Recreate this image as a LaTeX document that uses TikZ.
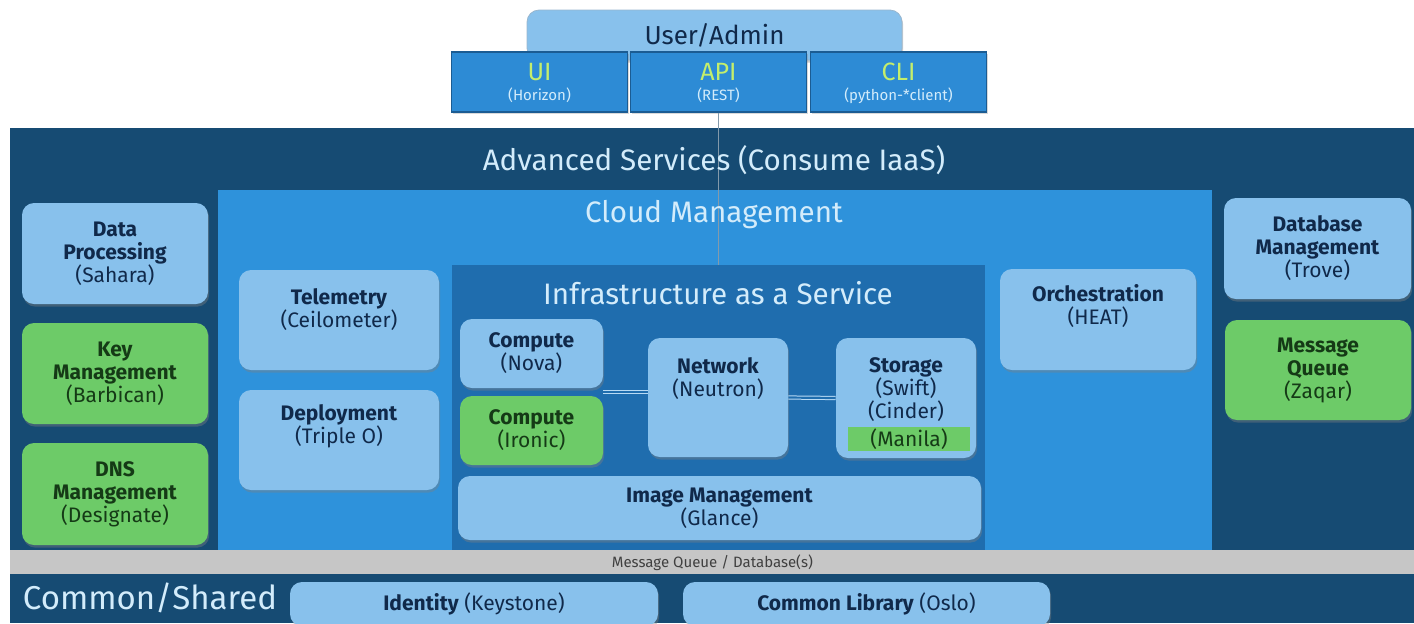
\documentclass[tikz,border=0pt]{standalone}
\usepackage{fontspec}
\setmainfont{Fira Sans}
\usetikzlibrary{positioning, calc, shadows}

\definecolor{outerblue}{HTML}{164B73}
\definecolor{cloudblue}{HTML}{2E92DB}
\definecolor{iaasblue}{HTML}{1F6DAE}
\definecolor{boxblue}{HTML}{88C1EC}
\definecolor{newgreen}{HTML}{6DCB68}
\definecolor{boxtext}{HTML}{10294A}
\definecolor{greentext}{HTML}{153A16}
\definecolor{titletext}{HTML}{D3ECFB}
\definecolor{topblue}{HTML}{2D8BD5}
\definecolor{topedge}{HTML}{1B5C93}
\definecolor{apigreen}{HTML}{C4EE6C}
\definecolor{busgray}{HTML}{C6C6C6}

\tikzset{
    boxsize/.style 2 args={minimum width=#1, minimum height=#2},
    svc/.style={rounded corners=6pt, fill=boxblue, text=boxtext, align=center,
        inner sep=0pt, font=\fontsize{10.5}{11.5}\selectfont,
        drop shadow={opacity=0.4, shadow xshift=0.6pt, shadow yshift=-1.3pt}},
    newsvc/.style={svc, fill=newgreen, text=greentext},
    lift/.style={text depth=#1},
    area/.style={inner sep=0pt, anchor=north west},
    areatitle/.style={text=titletext, font=\fontsize{14.8}{17}\selectfont},
    topbox/.style={fill=topblue, draw=topedge, line width=0.6pt, align=center,
        inner sep=0pt, boxsize={88pt}{30pt}, text=titletext, text depth=-1pt,
        font=\fontsize{7.5}{10}\selectfont,
        drop shadow={opacity=0.3, shadow xshift=0.6pt, shadow yshift=-1pt}},
    link/.style={draw=boxblue!60!white, line width=0.5pt, double=iaasblue,
        double distance=1.1pt},
    apiline/.style={draw=gray!60!boxblue, line width=0.45pt},
}

\begin{document}
\begin{tikzpicture}[x=0.5pt, y=-0.5pt]
    \useasboundingbox (0,0) rectangle (1414,623);

    % nested areas
    \node[area, fill=outerblue, boxsize={702pt}{247.5pt}] (adv) at (10,128) {};
    \node[area, fill=cloudblue, boxsize={497pt}{180pt}] (cloud) at (218,190) {};
    \node[area, fill=iaasblue, boxsize={266.5pt}{142.5pt}] (iaas) at (452,265) {};
    \node[area, fill=busgray, boxsize={702pt}{12pt}, text=black!75,
        font=\fontsize{7.5}{9}\selectfont] (bus) at (10,550) {Message Queue / Database(s)};

    % user access
    \node[svc, draw=topedge!45, boxsize={187.5pt}{25pt},
        font=\fontsize{13}{14}\selectfont] (user) at (714.5,35) {User/Admin};
    \node[topbox] (ui) at (539.5,82) {{\color{apigreen}\fontsize{12.5}{14}\selectfont UI}\\(Horizon)};
    \node[topbox] (api) at (718.5,82) {{\color{apigreen}\fontsize{12.5}{14}\selectfont API}\\(REST)};
    \node[topbox] (cli) at (898.5,82) {{\color{apigreen}\fontsize{12.5}{14}\selectfont CLI}\\(python-*client)};
    \draw[apiline] (api.south) -- (api.south |- iaas.north);

    \node[areatitle] (advtitle) at (714,160) {Advanced Services (Consume IaaS)};
    \node[areatitle] (cloudtitle) at (714,215) {Cloud Management};
    \node[areatitle] (iaastitle) at (718,293) {Infrastructure as a Service};
    \node[text=titletext, font=\fontsize{16.5}{18}\selectfont] (common) at (150,598) {Common/Shared};

    % advanced services
    \node[svc, boxsize={93pt}{50.5pt}] (dp) at (115,253.5) {\textbf{Data}\\\textbf{Processing}\\(Sahara)};
    \node[newsvc, boxsize={93pt}{50.5pt}] (km) at (115,373.5) {\textbf{Key}\\\textbf{Management}\\(Barbican)};
    \node[newsvc, boxsize={93pt}{51pt}] (dns) at (115,494) {\textbf{DNS}\\\textbf{Management}\\(Designate)};
    \node[svc, boxsize={93.5pt}{50.5pt}] (db) at (1317.5,248.5) {\textbf{Database}\\\textbf{Management}\\(Trove)};
    \node[newsvc, boxsize={93pt}{50pt}] (mq) at (1318,370) {\textbf{Message}\\\textbf{Queue}\\(Zaqar)};

    % cloud management
    \node[svc, boxsize={100pt}{50pt}, lift=12pt] (tel) at (339,320) {\textbf{Telemetry}\\(Ceilometer)};
    \node[svc, boxsize={100pt}{50pt}, lift=16pt] (dep) at (339,440) {\textbf{Deployment}\\(Triple O)};
    \node[svc, boxsize={98pt}{50.5pt}, lift=15pt] (orch) at (1098,319.5) {\textbf{Orchestration}\\(HEAT)};

    % iaas
    \node[svc, boxsize={71.5pt}{34.5pt}] (nova) at (531.5,353.5) {\textbf{Compute}\\(Nova)};
    \node[newsvc, boxsize={71.5pt}{34.5pt}] (ironic) at (531.5,430.5) {\textbf{Compute}\\(Ironic)};
    \node[svc, boxsize={70pt}{59.5pt}, lift=20pt] (net) at (718,397.5) {\textbf{Network}\\(Neutron)};
    \node[svc, boxsize={70pt}{60pt}, lift=10pt] (stor) at (906,398) {\textbf{Storage}\\(Swift)\\(Cinder)};
    \node[fill=newgreen, text=greentext, inner sep=0pt, boxsize={61pt}{12pt},
        font=\fontsize{10.5}{11.5}\selectfont] (manila) at (909,439) {(Manila)};
    \node[svc, boxsize={261.5pt}{32pt}] (img) at (719.5,508) {\textbf{Image Management}\\(Glance)};

    \coordinate (cgap) at ($(nova.south east)!0.5!(ironic.north east)$);
    \draw[link] (cgap) -- (cgap -| net.west);
    \draw[link] (net.east) -- (stor.west);

    % common
    \node[svc, boxsize={184pt}{22pt}] (ident) at (474,604) {\textbf{Identity} (Keystone)};
    \node[svc, boxsize={183.5pt}{22pt}] (oslo) at (866.5,604) {\textbf{Common Library} (Oslo)};
\end{tikzpicture}
\end{document}
